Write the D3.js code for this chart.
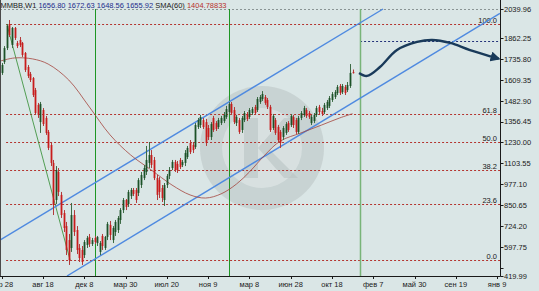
<!DOCTYPE html>
<html>
<head>
<meta charset="utf-8">
<script src="https://cdn.jsdelivr.net/npm/d3@7"></script>
<style>
  body { margin: 0; background: #dae6e6; }
  svg { display: block; font-family: "Liberation Sans", Arial, sans-serif; }
</style>
</head>
<body>
<script>
// ================================
// DATA (weekly bars, index 0 = апр 28)
// ================================
var opens = [1652,1718,1803,1949,1821,1925,1834,1852,1834,1773,
    1688,1646,1621,1548,1458,1354,1427,1379,1294,1215,
    1106,881,1051,912,802,723,638,590,790,699,
    590,578,547,608,657,614,651,620,566,663,
    590,657,730,638,687,699,760,820,881,857,
    905,942,942,924,972,1014,1051,1106,1154,1124,
    1014,1002,954,881,972,1027,1075,1112,1100,1124,
    1093,1106,1142,1227,1215,1203,1324,1336,1366,1354,
    1318,1263,1379,1348,1324,1348,1360,1385,1415,1464,
    1427,1348,1366,1306,1366,1403,1385,1409,1445,1427,
    1476,1494,1506,1488,1446,1318,1366,1324,1294,1263,
    1288,1348,1336,1385,1366,1294,1379,1397,1427,1409,
    1348,1360,1397,1446,1421,1415,1439,1452,1488,1506,
    1530,1573,1536,1567,1548,1573,1656.80];
var highs = [1712,1815,1949,1973,1931,1931,1846,1870,1840,1779,
    1700,1658,1627,1561,1470,1476,1439,1391,1306,1227,
    1124,1087,1075,930,820,748,675,863,820,723,
    614,602,638,663,675,651,663,663,632,675,
    663,748,754,723,760,784,832,893,887,942,
    954,954,954,1014,1051,1093,1209,1233,1184,1142,
    1033,1020,972,984,1039,1081,1124,1124,1118,1136,
    1124,1184,1209,1245,1233,1348,1379,1397,1379,1373,
    1336,1354,1391,1360,1379,1391,1415,1452,1476,1476,
    1445,1397,1379,1391,1421,1415,1439,1445,1458,1506,
    1518,1542,1518,1500,1458,1403,1379,1336,1306,1330,
    1354,1360,1403,1397,1379,1391,1421,1452,1439,1421,
    1397,1409,1452,1458,1440,1470,1488,1512,1536,1548,
    1579,1585,1585,1579,1597,1706,1672.63];
var lows = [1640,1706,1791,1870,1803,1852,1803,1809,1749,1658,
    1621,1597,1506,1397,1379,1288,1330,1276,1184,1087,
    790,857,905,772,687,547,487,566,663,553,
    505,487,529,590,596,602,614,602,547,578,
    578,638,638,620,663,681,736,802,820,839,
    887,905,863,905,954,1002,1033,1075,1075,1002,
    881,893,869,845,954,1008,1063,1051,1045,1069,
    1081,1087,1130,1160,1166,1191,1312,1318,1312,1209,
    1245,1245,1294,1300,1312,1336,1348,1373,1403,1397,
    1342,1330,1282,1288,1354,1360,1373,1397,1397,1415,
    1464,1482,1458,1433,1294,1306,1276,1233,1197,1245,
    1276,1294,1324,1318,1282,1282,1366,1385,1379,1373,
    1336,1348,1385,1403,1391,1403,1427,1439,1476,1494,
    1518,1518,1524,1518,1536,1561,1648.56];
var closes = [1700,1803,1937,1882,1925,1864,1815,1821,1761,1670,
    1634,1609,1518,1409,1397,1464,1342,1288,1197,1106,
    851,1063,930,790,711,578,517,790,687,578,
    529,505,626,651,614,638,626,657,620,602,
    657,736,669,711,748,772,820,881,839,930,
    942,918,881,1002,1033,1075,1124,1154,1094,1014,
    912,930,893,972,1027,1063,1112,1063,1063,1081,
    1112,1166,1197,1172,1184,1336,1366,1385,1324,1227,
    1263,1342,1306,1312,1366,1379,1397,1433,1464,1409,
    1354,1385,1294,1379,1409,1373,1427,1433,1409,1494,
    1506,1524,1470,1446,1306,1391,1288,1245,1227,1318,
    1342,1306,1391,1336,1294,1379,1409,1439,1391,1385,
    1385,1397,1439,1415,1403,1458,1476,1500,1524,1536,
    1567,1530,1573,1530,1579,1652,1655.92];

// SMA(60): [bar index, value]
var smaIdx = [-0.6, 5, 12, 18, 26, 34, 42, 50, 58, 66, 73, 79, 85, 91, 96, 102, 108, 116, 124, 131, 136];
var smaVal = [1724, 1743, 1737, 1706, 1609, 1445, 1276, 1154, 1063, 972, 912, 893, 918, 978, 1051, 1154, 1239, 1288, 1336, 1379, 1404.79];

// x axis ticks (every 16 weeks)
var xTickIdx = [0, 16, 32, 48, 64, 80, 96, 112, 128, 144, 160, 176, 192];
var xTickLabels = ["апр 28", "авг 18", "дек 8", "мар 30", "июл 20", "ноя 9", "мар 8",
    "июн 28", "окт 18", "фев 7", "май 30", "сен 19", "янв 9"];

// y axis ticks
var yTickVals = [2039.96, 1862.25, 1735.80, 1609.35, 1482.90, 1356.45, 1230.00,
    1103.55, 977.10, 850.65, 724.20, 597.75, 471.30, 419.99];
var yTickLabels = ["2039.96", "1862.25", "1735.80", "1609.35", "1482.90", "1356.45", "1230.00",
    "1103.55", "977.10", "850.65", "724.20", "597.75", "", "419.99"];

// fibonacci retracement
var fibLow = 517, fibHigh = 1947;
var fibStartIdx = 1.7;
var fibLevels = [0, 23.6, 38.2, 50, 61.8, 100];
var fibLabels = ["0.0", "23.6", "38.2", "50.0", "61.8", "100.0"];

// drawn objects: [bar index, price]
var fibTrend = [[2, 1947], [26.5, 517]];
var channelUpper = [[-0.7, 638], [147.8, 2040]];
var channelLower = [[25.3, 420], [193.1, 2013]];
var vLinesIdx = [36, 88, 139];
var targetLevel = 1845, targetStartIdx = 138.9;
var arrowPts = [[138.5, 1652], [141.6, 1634], [146.6, 1688], [153.2, 1791], [161, 1840],
    [166.8, 1852], [173.8, 1834], [181.5, 1791], [192.6, 1738]];

// header
var symbolName = "MMBB,W1";
var lastOHLC = ["1656.80", "1672.63", "1648.56", "1655.92"];
var smaName = "SMA(60)", smaLast = "1404.78833";

// ================================
// DRAW
// ================================
var W = 539, H = 291;
var plotRight = 500.5, plotTop = 9, plotBottom = 276;

var svg = d3.select("body").append("svg")
    .attr("width", W)
    .attr("height", H);

var x = d3.scaleLinear().domain([0, 192]).range([1.7, 497.1]);
var y = d3.scaleLinear().domain([419.99, 2039.96]).range([plotBottom, plotTop]);

svg.append("rect").attr("width", W).attr("height", H).attr("fill", "#dae6e6");

svg.append("clipPath").attr("id", "plot")
    .append("rect").attr("x", 0).attr("y", 0).attr("width", plotRight).attr("height", plotBottom);

var plot = svg.append("g").attr("clip-path", "url(#plot)");

// watermark logo
var wm = plot.append("g").attr("transform", "translate(262,148)");
wm.append("circle").attr("r", 62).attr("fill", "#b9c3c3").attr("opacity", 0.55);
wm.append("circle").attr("r", 40).attr("fill", "#e3eaea").attr("opacity", 0.6);
wm.append("path")
    .attr("d", "M-18,-30 L-4,-30 L-4,30 L-18,30 Z M-4,0 L22,-30 L36,-30 L8,2 L36,30 L22,30 Z")
    .attr("fill", "#b9c3c3").attr("opacity", 0.6);

// top border (dotted)
plot.append("line")
    .attr("x1", 0).attr("x2", plotRight).attr("y1", plotTop + 0.5).attr("y2", plotTop + 0.5)
    .attr("stroke", "#8a9494").attr("stroke-dasharray", "2,2");

function fibY(d){ return Math.round(y(fibLow + (fibHigh - fibLow) * d / 100)) + 0.5; }

// fib levels
plot.selectAll(".fib")
    .data(fibLevels)
    .enter()
    .append("line")
    .attr("class", "fib")
    .attr("x1", x(fibStartIdx))
    .attr("x2", plotRight)
    .attr("y1", fibY)
    .attr("y2", fibY)
    .attr("stroke", "#b4332e")
    .attr("stroke-dasharray", "2,2");

plot.selectAll(".fibLabel")
    .data(fibLevels)
    .enter()
    .append("text")
    .attr("class", "fibLabel")
    .attr("x", 497)
    .attr("y", function(d){ return fibY(d) - 2; })
    .attr("text-anchor", "end")
    .attr("font-size", "7.5px")
    .attr("fill", "#202020")
    .text(function(d, i){ return fibLabels[i]; });

// target level
plot.append("line")
    .attr("x1", x(targetStartIdx)).attr("x2", plotRight)
    .attr("y1", Math.round(y(targetLevel)) + 0.5).attr("y2", Math.round(y(targetLevel)) + 0.5)
    .attr("stroke", "#23327a").attr("stroke-dasharray", "2,2");

// vertical lines
plot.selectAll(".vline")
    .data(vLinesIdx)
    .enter()
    .append("line")
    .attr("class", "vline")
    .attr("x1", function(d){ return Math.round(x(d)) + 0.5; })
    .attr("x2", function(d){ return Math.round(x(d)) + 0.5; })
    .attr("y1", plotTop).attr("y2", plotBottom)
    .attr("stroke", function(d, i){ return i < 2 ? "#1e9624" : "#78b478"; })
    .attr("stroke-width", function(d, i){ return i < 2 ? 1 : 1.5; });

var line = d3.line()
    .x(function(d){ return x(d[0]); })
    .y(function(d){ return y(d[1]); });

// fib trend line
plot.append("path").attr("d", line(fibTrend))
    .attr("fill", "none").attr("stroke", "#2e8b2e").attr("stroke-width", 0.8);

// channel
[channelUpper, channelLower].forEach(function(c){
    plot.append("path").attr("d", line(c))
        .attr("fill", "none").attr("stroke", "#4f8ae0").attr("stroke-width", 1.4);
});

// SMA(60)
var smaPts = smaIdx.map(function(d, i){ return [d, smaVal[i]]; });
var curve = d3.line()
    .x(function(d){ return x(d[0]); })
    .y(function(d){ return y(d[1]); })
    .curve(d3.curveCatmullRom);
plot.append("path")
    .attr("d", curve(smaPts))
    .attr("fill", "none").attr("stroke", "#a4443c").attr("stroke-width", 0.8);

// candles
var bars = opens.map(function(o, i){
    return { i: i, o: o, h: highs[i], l: lows[i], c: closes[i] };
});
var bw = 1.8;

plot.selectAll(".wick")
    .data(bars)
    .enter()
    .append("line")
    .attr("class", "wick")
    .attr("x1", function(d){ return Math.round(x(d.i)) + 0.5; })
    .attr("x2", function(d){ return Math.round(x(d.i)) + 0.5; })
    .attr("y1", function(d){ return y(d.h); })
    .attr("y2", function(d){ return y(d.l); })
    .attr("stroke", function(d){ return d.c >= d.o ? "#3d6b45" : "#b23a3a"; })
    .attr("stroke-width", 1);

plot.selectAll(".body")
    .data(bars)
    .enter()
    .append("rect")
    .attr("class", "body")
    .attr("x", function(d){ return Math.round(x(d.i)) + 0.5 - bw / 2; })
    .attr("width", bw)
    .attr("y", function(d){ return y(Math.max(d.o, d.c)); })
    .attr("height", function(d){ return Math.max(1, Math.abs(y(d.o) - y(d.c))); })
    .attr("fill", function(d){ return d.c >= d.o ? "#1c5228" : "#c81c1c"; });

// forecast arrow
svg.append("defs").append("marker")
    .attr("id", "head")
    .attr("viewBox", "0 0 10 10")
    .attr("refX", 8).attr("refY", 5)
    .attr("markerWidth", 4.2).attr("markerHeight", 4.2)
    .attr("orient", "auto")
    .attr("markerUnits", "strokeWidth")
    .append("path").attr("d", "M0,0 L10,5 L0,10 Z").attr("fill", "#193a5a");

svg.append("path")
    .attr("d", curve(arrowPts))
    .attr("fill", "none")
    .attr("stroke", "#193a5a")
    .attr("stroke-width", 2.4)
    .attr("marker-end", "url(#head)");

// frame
svg.append("line").attr("x1", 0.5).attr("x2", 0.5).attr("y1", 0).attr("y2", plotBottom)
    .attr("stroke", "#4a4a4a");
svg.append("line").attr("x1", plotRight).attr("x2", plotRight).attr("y1", 0).attr("y2", plotBottom + 0.5)
    .attr("stroke", "#1a1a1a");
svg.append("line").attr("x1", 0).attr("x2", plotRight).attr("y1", plotBottom + 0.5).attr("y2", plotBottom + 0.5)
    .attr("stroke", "#1a1a1a");

// y axis
var yAxis = svg.append("g");
yAxis.selectAll("line")
    .data(yTickVals)
    .enter()
    .append("line")
    .attr("x1", plotRight).attr("x2", plotRight + 3)
    .attr("y1", function(d){ return Math.round(y(d)) + 0.5; })
    .attr("y2", function(d){ return Math.round(y(d)) + 0.5; })
    .attr("stroke", "#1a1a1a");
yAxis.selectAll("text")
    .data(yTickVals)
    .enter()
    .append("text")
    .attr("x", plotRight + 3.5)
    .attr("y", function(d){ return y(d) + 2.8; })
    .attr("font-size", "7.5px")
    .attr("fill", "#1a1a1a")
    .text(function(d, i){ return yTickLabels[i]; });

// x axis
var xAxis = svg.append("g");
xAxis.selectAll("line")
    .data(xTickIdx)
    .enter()
    .append("line")
    .attr("x1", function(d){ return Math.round(x(d)) + 0.5; })
    .attr("x2", function(d){ return Math.round(x(d)) + 0.5; })
    .attr("y1", plotBottom).attr("y2", plotBottom + 3)
    .attr("stroke", "#1a1a1a");
xAxis.selectAll("text")
    .data(xTickIdx)
    .enter()
    .append("text")
    .attr("x", function(d){ return x(d); })
    .attr("y", 286.5)
    .attr("text-anchor", "middle")
    .attr("font-size", "7.5px")
    .attr("fill", "#1a1a1a")
    .text(function(d, i){ return xTickLabels[i]; });

// header
var head = svg.append("text").attr("x", 0.5).attr("y", 7.5).attr("font-size", "7.5px");
head.append("tspan").attr("fill", "#1a1a1a").text(symbolName + " ");
lastOHLC.forEach(function(v){
    head.append("tspan").attr("fill", "#1e2d8c").text(" " + v + " ");
});
head.append("tspan").attr("fill", "#1a1a1a").text(" " + smaName + " ");
head.append("tspan").attr("fill", "#b8322c").text(" " + smaLast);
</script>
</body>
</html>
